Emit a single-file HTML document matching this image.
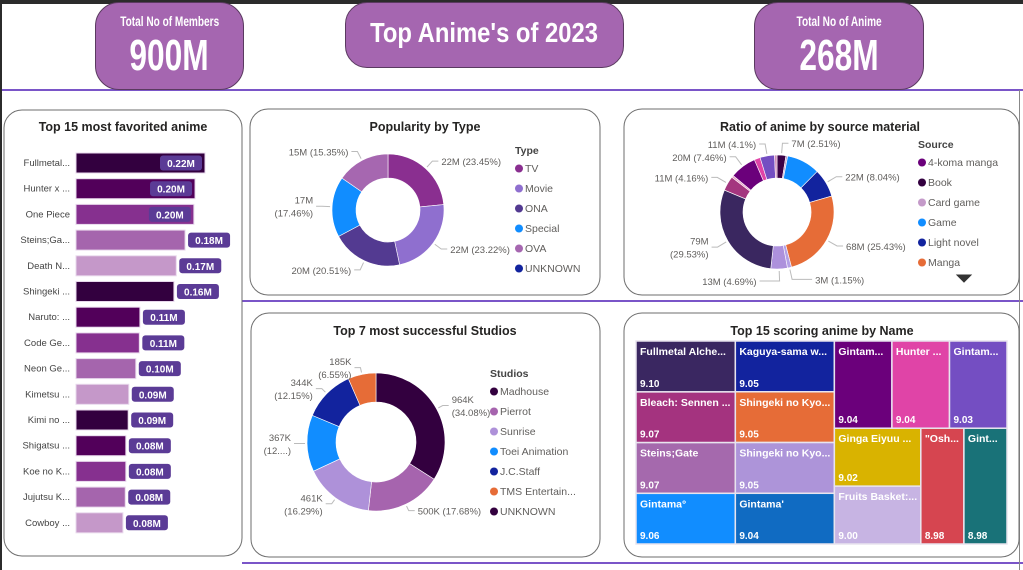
<!DOCTYPE html>
<html><head><meta charset="utf-8">
<style>
body{margin:0;width:1023px;height:570px;overflow:hidden;background:#fff;font-family:"Liberation Sans",sans-serif;position:relative}
.kpi{position:absolute;background:#a566b0;border:1px solid #5a3a60;color:#fff;text-align:center;font-family:"Liberation Sans",sans-serif;font-weight:bold;box-sizing:border-box;white-space:nowrap}
.sq{display:inline-block;transform:scaleX(0.72);transform-origin:center}
svg{position:absolute;left:0;top:0}
</style></head><body>
<div style="position:absolute;left:0;top:0;width:1023px;height:4px;background:#2b2b2b"></div>
<div style="position:absolute;left:0;top:0;width:2px;height:570px;background:#2b2b2b"></div>
<div class="kpi" style="left:95px;top:2px;width:149px;height:88px;border-radius:24px">
 <div style="font-size:14px;margin-top:10px"><span class="sq">Total No of Members</span></div>
 <div style="font-size:44px;line-height:48px;margin-top:3px"><span class="sq">900M</span></div>
</div>
<div class="kpi" style="left:345px;top:2px;width:279px;height:66px;border-radius:22px;font-size:28px;line-height:60px"><span class="sq" style="transform:scaleX(0.85)">Top Anime's of 2023</span></div>
<div class="kpi" style="left:754px;top:2px;width:170px;height:88px;border-radius:24px">
 <div style="font-size:14px;margin-top:10px"><span class="sq">Total No of Anime</span></div>
 <div style="font-size:44px;line-height:48px;margin-top:3px"><span class="sq">268M</span></div>
</div>
<svg id="s" width="1023" height="570" xmlns="http://www.w3.org/2000/svg" style="z-index:-1"></svg>
<script>
// ---------- data ----------
const barCats=["Fullmetal...","Hunter x ...","One Piece","Steins;Ga...","Death N...","Shingeki ...","Naruto: ...","Code Ge...","Neon Ge...","Kimetsu ...","Kimi no ...","Shigatsu ...","Koe no K...","Jujutsu K...","Cowboy ..."];
const barVals=[0.22,0.203,0.201,0.186,0.171,0.167,0.109,0.108,0.102,0.090,0.089,0.085,0.085,0.084,0.080];
const barLabels=["0.22M","0.20M","0.20M","0.18M","0.17M","0.16M","0.11M","0.11M","0.10M","0.09M","0.09M","0.08M","0.08M","0.08M","0.08M"];

const typeCats=["TV","Movie","ONA","Special","OVA","UNKNOWN"];
const typeVals=[23.45,23.22,20.51,17.46,15.35,0];
const typeLabels=["22M (23.45%)","22M (23.22%)","20M (20.51%)","17M|(17.46%)","15M (15.35%)",""];

const srcCats=["Book","Card game","Game","Light novel","Manga","Music","Novel","Original","Other","Picture book","4-koma manga","Radio","Visual novel","Web manga"];
const srcVals=[2.51,0.5,9.43,8.04,25.43,1.15,4.69,29.53,4.16,0.6,7.46,1.7,4.1,0.7];
const srcLabels=["7M (2.51%)","","","22M (8.04%)","68M (25.43%)","3M (1.15%)","13M (4.69%)","79M|(29.53%)","11M (4.16%)","","20M (7.46%)","","11M (4.1%)",""];
const srcLegend=["4-koma manga","Book","Card game","Game","Light novel","Manga"];

const stuCats=["Madhouse","Pierrot","Sunrise","Toei Animation","J.C.Staff","TMS Entertain...","UNKNOWN"];
const stuVals=[34.08,17.68,16.29,13.25,12.15,6.55,0];
const stuLabels=["964K|(34.08%)","500K (17.68%)","461K|(16.29%)","367K|(12....)","344K|(12.15%)","185K|(6.55%)",""];

const tmNames=["Fullmetal Alche...","Kaguya-sama w...","Bleach: Sennen ...","Shingeki no Kyo...","Steins;Gate","Shingeki no Kyo...","Gintama°","Gintama'","Gintam...","Hunter ...","Gintam...","Ginga Eiyuu ...","Fruits Basket:...","\"Osh...","Gint..."];
const tmVals=[9.10,9.05,9.07,9.05,9.07,9.05,9.06,9.04,9.04,9.04,9.03,9.02,9.00,8.98,8.98];

// ---------- helpers ----------
const S=document.getElementById('s');const NS="http://www.w3.org/2000/svg";
function el(tag,at,parent){const e=document.createElementNS(NS,tag);for(const k in at)e.setAttribute(k,at[k]);(parent||S).appendChild(e);return e;}
function txt(x,y,s,at,parent){const t=el('text',Object.assign({x:x,y:y},at),parent);t.textContent=s;return t;}
function panel(x,y,w,h,name,title,tx,ty){
 const r=el('rect',{x:x,y:y,width:w,height:h,rx:18,fill:'#fff',stroke:'#6e6e6e','stroke-width':1});
 
 const t=txt(tx,ty,title,{'font-size':12.5,'font-weight':'bold',fill:'#252423','text-anchor':'middle'});
 
}
[[2,90,1023,90],[242,301,1023,301],[242,563,1023,563]].forEach((l,i)=>{const e=el('line',{x1:l[0],y1:l[1],x2:l[2],y2:l[3],stroke:'#7a55c8','stroke-width':2});});
{const e=el('line',{x1:1019.5,y1:90,x2:1019.5,y2:570,stroke:'#888','stroke-width':1});}

panel(4,110,238,446,'favorited-panel','Top 15 most favorited anime',123,131);
panel(250,109,350,186,'type-panel','Popularity by Type',425,131);
panel(624,109,395,186,'source-panel','Ratio of anime by source material',820,131);
panel(251,313,349,244,'studios-panel','Top 7 most successful Studios',425,335);
panel(624,313,395,244,'treemap-panel','Top 15 scoring anime by Name',822,335);

// ---------- bar chart ----------
const barCols=["#33003f","#52005a","#86308f","#a565ad","#c598c9"];
const bx0=76,bScale=129/0.22,rowY0=153,rowStep=25.7,bh=20;
const xScale=v=>v*bScale, yRow=i=>rowY0+i*rowStep;
barCats.forEach((c,i)=>{
 const y=yRow(i),w=xScale(barVals[i]);
 const t=txt(70,y+13,c,{'font-size':9.5,fill:'#444','text-anchor':'end'});
 
 const b=el('rect',{x:bx0,y:y,width:w,height:bh,fill:barCols[i%5],stroke:'#e8d8ec','stroke-width':1});
 
 const inside=w>110; const lw=42; const lx=inside?bx0+w-lw-3:bx0+w+3;
 const lb=el('rect',{x:lx,y:y+2.5,width:lw,height:15,rx:3,fill:'#5b3b96'});
 
 const lt=txt(lx+lw/2,y+14,barLabels[i],{'font-size':10,'font-weight':'bold',fill:'#fff','text-anchor':'middle'});
 
});

// ---------- donut ----------
function donut(cx,cy,ro,ri,vals,cols,labels,name,lblR){
 const tot=vals.reduce((a,b)=>a+b,0);let a0=0;
 vals.forEach((v,i)=>{
  if(v<=0)return;
  const a1=a0+v/tot*2*Math.PI;
  const p=(r,a)=>[cx+r*Math.sin(a),cy-r*Math.cos(a)];
  const [x1,y1]=p(ro,a0),[x2,y2]=p(ro,a1),[x3,y3]=p(ri,a1),[x4,y4]=p(ri,a0);
  const lg=(a1-a0)>Math.PI?1:0;
  const path=el('path',{d:`M${x1},${y1}A${ro},${ro} 0 ${lg} 1 ${x2},${y2}L${x3},${y3}A${ri},${ri} 0 ${lg} 0 ${x4},${y4}Z`,fill:cols[i],stroke:'#fff','stroke-width':0.6});
  
  if(labels[i]){
   const am=(a0+a1)/2;
   const nearBottom=Math.abs(am-Math.PI)<0.3;
   const s=nearBottom?(am<Math.PI-0.06?1:-1):(Math.sin(am)>=0?1:-1);
   const [px,py]=p(ro+2,am);const [ex,ey]=p(ro+lblR,am);
   const hx=ex+s*(6+(nearBottom?14:0));
   const ln=el('polyline',{points:`${px},${py} ${ex},${ey} ${hx},${ey}`,fill:'none',stroke:'#bbb','stroke-width':1});
   
   const parts=labels[i].split('|');
   parts.forEach((ps,k)=>{
    const t=txt(hx+s*3,ey+4+(k-(parts.length-1)/2)*13,ps,{'font-size':9.5,fill:'#605e5c','text-anchor':s>0?'start':'end'});
    
   });
  }
  a0=a1;
 });
}
function legend(x,y,title,items,cols,name){
 const t=txt(x,y,title,{'font-size':10.5,'font-weight':'bold',fill:'#444'});
 
 items.forEach((it,i)=>{
  const yy=y+18+i*20;
  const c=el('circle',{cx:x+4,cy:yy-3.5,r:4,fill:cols[i]});
  
  const l=txt(x+10,yy,it,{'font-size':10.5,fill:'#605e5c'});
  
 });
}
const typeCols=["#8a2f90","#8f6fcf","#533a91","#118dff","#a667b0","#12239e"];
donut(388,210,56,32,typeVals,typeCols,typeLabels,'type',10);
legend(515,154,'Type',typeCats,typeCols,'type');

const srcCols=["#3b0046","#c49ac9","#118dff","#12239e","#e66c37","#b3a0e6","#ad91dc","#3a2760","#a4367f","#e8a0c8","#6b007b","#e044a7","#744ec2","#d08bb8"];
donut(777,212,57,34,srcVals,srcCols,srcLabels,'source',12);
legend(918,148,'Source',srcLegend,["#6b007b","#33003f","#c49ac9","#118dff","#12239e","#e66c37"],'source');
{const tr=el('path',{d:'M957,275 L971,275 L964,282 Z',fill:'#333',stroke:'#333'});}

const stuCols=["#33003f","#a664ae","#ae91d9","#118dff","#12239e","#e66c37","#33003f"];
donut(376,442,69,40,stuVals,stuCols,stuLabels,'studio',7);
legend(490,377,'Studios',stuCats,stuCols,'studio');

// ---------- treemap ----------
const tmCols=["#3a2761","#12239e","#a4337f","#e66c37","#a569ad","#ad94d9","#118dff","#106bc2","#6b007b","#e044a7","#744ec2","#d9b300","#c7b4e3","#d64550","#197278"];
const tmTree={d:'h',c:[
 {d:'h',c:[{d:'v',c:[0,2,4,6]},{d:'v',c:[1,3,5,7]}]},
 {d:'v',c:[{d:'h',c:[8,9,10]},{d:'h',c:[{d:'v',c:[11,12]},13,14]}]}
]};
function sumN(n){return typeof n==='number'?tmVals[n]:n.c.reduce((a,c)=>a+sumN(c),0);}
function layout(n,x,y,w,h){
 if(typeof n==='number'){
  const r=el('rect',{x:x,y:y,width:w,height:h,fill:tmCols[n],stroke:'#e8e4ee','stroke-width':1.5});
  
  const t=txt(x+4,y+14,tmNames[n],{'font-size':10.5,'font-weight':'bold',fill:'#fff'});
  
  const v=txt(x+4,y+h-5,tmVals[n].toFixed(2),{'font-size':10,'font-weight':'bold',fill:'#fff'});
  
  return;
 }
 const tot=sumN(n);let off=0;
 n.c.forEach(c=>{const f=sumN(c)/tot;
  if(n.d==='h'){layout(c,x+off,y,w*f,h);off+=w*f;}else{layout(c,x,y+off,w,h*f);off+=h*f;}
 });
}
layout(tmTree,636,341,371,203);
</script>
</body></html>
